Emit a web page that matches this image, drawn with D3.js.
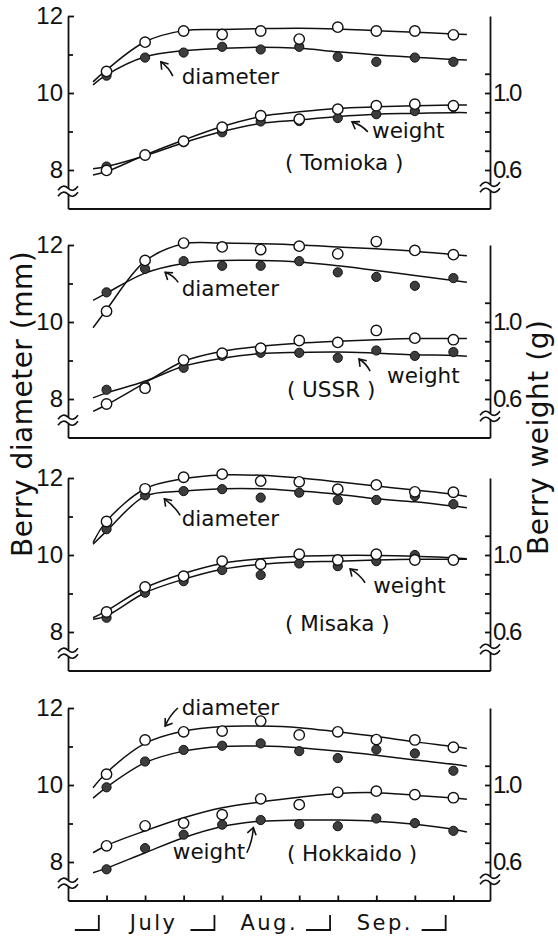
<!DOCTYPE html>
<html>
<head>
<meta charset="utf-8">
<script src="https://cdn.jsdelivr.net/npm/d3@7"></script>
<style>
  body { margin: 0; background: #fff; }
  svg { display: block; }
  text { font-family: "DejaVu Sans", sans-serif; fill: #111; }
  .axis path, .axis line { stroke: #111; stroke-width: 1.8; }
  .axis text { font-family: "Liberation Sans Narrow", "Liberation Sans", sans-serif; font-size: 24px; fill: #111; }
</style>
</head>
<body>
<svg id="chart" width="558" height="949"></svg>
<script>
// sampling days (day 0 = 1 July) and days at which the fitted curves were read
var sampleDays = [2, 12, 22, 32, 42, 52, 62, 72, 82, 92];
var fitDays = [-1.5, 2, 12, 22, 32, 42, 52, 62, 72, 82, 92, 95.5];
var monthNames = ['July', 'Aug.', 'Sep.'];
var monthStarts = [0, 30, 60, 90];
var diamTicks = [8, 10, 12];
var diamMinor = [9, 11];
var weightTicks = [0.6, 0.7, 0.8, 0.9, 1.0, 1.1];
var weightLabels = [0.6, 1.0];
var cultivars = ['Tomioka', 'USSR', 'Misaka', 'Hokkaido'];

// Tomioka
var tomDiaOpen = [10.56, 11.32, 11.61, 11.52, 11.61, 11.40, 11.71, 11.61, 11.61, 11.51];
var tomDiaSolid = [10.45, 10.92, 11.05, 11.20, 11.13, 11.20, 10.94, 10.81, 10.92, 10.81];
var tomWtOpen = [0.598, 0.678, 0.750, 0.822, 0.882, 0.864, 0.916, 0.934, 0.942, 0.934];
var tomWtSolid = [0.618, 0.676, 0.744, 0.796, 0.852, 0.854, 0.870, 0.890, 0.906, 0.926];
var tomDiaOpenFit = [10.29, 10.60, 11.33, 11.62, 11.65, 11.67, 11.68, 11.66, 11.62, 11.58, 11.53, 11.52];
var tomDiaSolidFit = [10.21, 10.47, 10.94, 11.10, 11.16, 11.19, 11.16, 11.07, 10.99, 10.93, 10.87, 10.86];
var tomWtOpenFit = [0.574, 0.592, 0.678, 0.756, 0.826, 0.878, 0.902, 0.920, 0.928, 0.934, 0.938, 0.938];
var tomWtSolidFit = [0.606, 0.618, 0.674, 0.742, 0.800, 0.842, 0.860, 0.878, 0.890, 0.894, 0.898, 0.898];

// USSR
var ussDiaOpen = [10.28, 11.60, 12.05, 11.95, 11.88, 11.97, 11.77, 12.09, 11.86, 11.75];
var ussDiaSolid = [10.77, 11.38, 11.58, 11.46, 11.46, 11.58, 11.29, 11.17, 10.94, 11.14];
var ussWtOpen = [0.574, 0.656, 0.802, 0.838, 0.864, 0.904, 0.894, 0.956, 0.916, 0.908];
var ussWtSolid = [0.648, 0.670, 0.762, 0.824, 0.840, 0.840, 0.814, 0.852, 0.824, 0.844];
var ussDiaOpenFit = [9.85, 10.32, 11.58, 12.03, 12.05, 12.03, 12.00, 11.95, 11.90, 11.84, 11.75, 11.72];
var ussDiaSolidFit = [10.56, 10.75, 11.27, 11.52, 11.60, 11.60, 11.56, 11.46, 11.34, 11.21, 11.08, 11.03];
var ussWtOpenFit = [0.536, 0.570, 0.684, 0.796, 0.848, 0.874, 0.890, 0.900, 0.908, 0.914, 0.914, 0.914];
var ussWtSolidFit = [0.606, 0.632, 0.692, 0.770, 0.812, 0.836, 0.842, 0.844, 0.838, 0.830, 0.826, 0.822];

// Misaka
var misDiaOpen = [10.87, 11.72, 12.02, 12.10, 11.92, 11.90, 11.71, 11.82, 11.64, 11.63];
var misDiaSolid = [10.67, 11.55, 11.66, 11.71, 11.49, 11.62, 11.43, 11.43, 11.53, 11.32];
var misWtOpen = [0.704, 0.834, 0.890, 0.968, 0.952, 1.004, 0.974, 1.004, 0.974, 0.974];
var misWtSolid = [0.674, 0.804, 0.864, 0.922, 0.896, 0.956, 0.942, 0.968, 1.000, 0.974];
var misDiaOpenFit = [10.32, 10.88, 11.72, 11.98, 12.08, 12.07, 12.00, 11.90, 11.79, 11.69, 11.58, 11.52];
var misDiaSolidFit = [10.28, 10.62, 11.53, 11.66, 11.72, 11.72, 11.66, 11.58, 11.46, 11.38, 11.27, 11.23];
var misWtOpenFit = [0.674, 0.710, 0.830, 0.904, 0.956, 0.980, 0.994, 0.998, 0.998, 0.994, 0.986, 0.980];
var misWtSolidFit = [0.666, 0.684, 0.804, 0.874, 0.926, 0.952, 0.964, 0.968, 0.974, 0.978, 0.978, 0.978];

// Hokkaido
var hokDiaOpen = [10.28, 11.17, 11.38, 11.40, 11.66, 11.30, 11.38, 11.18, 11.17, 10.98];
var hokDiaSolid = [9.94, 10.61, 10.91, 11.02, 11.08, 10.88, 10.70, 10.92, 10.82, 10.37];
var hokWtOpen = [0.684, 0.788, 0.802, 0.846, 0.928, 0.898, 0.962, 0.968, 0.950, 0.934];
var hokWtSolid = [0.562, 0.672, 0.742, 0.794, 0.818, 0.796, 0.786, 0.826, 0.802, 0.762];
var hokDiaOpenFit = [9.93, 10.32, 11.08, 11.40, 11.52, 11.53, 11.49, 11.38, 11.26, 11.12, 11.00, 10.95];
var hokDiaSolidFit = [9.66, 9.94, 10.58, 10.88, 11.00, 11.01, 10.97, 10.88, 10.77, 10.65, 10.54, 10.49];
var hokWtOpenFit = [0.648, 0.686, 0.762, 0.830, 0.882, 0.912, 0.936, 0.956, 0.960, 0.946, 0.932, 0.926];
var hokWtSolidFit = [0.544, 0.568, 0.648, 0.726, 0.784, 0.812, 0.818, 0.818, 0.812, 0.796, 0.770, 0.756];

var panelData = [
  { dia: [tomDiaOpen, tomDiaSolid], wt: [tomWtOpen, tomWtSolid],
    diaFit: [tomDiaOpenFit, tomDiaSolidFit], wtFit: [tomWtOpenFit, tomWtSolidFit] },
  { dia: [ussDiaOpen, ussDiaSolid], wt: [ussWtOpen, ussWtSolid],
    diaFit: [ussDiaOpenFit, ussDiaSolidFit], wtFit: [ussWtOpenFit, ussWtSolidFit] },
  { dia: [misDiaOpen, misDiaSolid], wt: [misWtOpen, misWtSolid],
    diaFit: [misDiaOpenFit, misDiaSolidFit], wtFit: [misWtOpenFit, misWtSolidFit] },
  { dia: [hokDiaOpen, hokDiaSolid], wt: [hokWtOpen, hokWtSolid],
    diaFit: [hokDiaOpenFit, hokDiaSolidFit], wtFit: [hokWtOpenFit, hokWtSolidFit] }
];

// labels and arrows, placed in data units (day, mm)
var labelPos = [
  { dia: [21.5, 10.23], wt: [70.9, 8.83], name: [48.3, 8.0] },
  { dia: [21.5, 10.68], wt: [74.8, 8.42], name: [48.8, 8.05] },
  { dia: [21.5, 10.75], wt: [71.2, 9.02], name: [48.3, 8.03] },
  { dia: [21.5, 11.82], wt: [19.2, 8.07], name: [48.8, 8.03] }
];
var arrowPos = [
  [[[19.2, 10.44], [16.1, 10.81]], [[69.8, 8.99], [65.7, 9.25]]],
  [[[20.6, 11.03], [17.2, 11.29]], [[70.4, 8.72], [67.5, 9.04]]],
  [[[21.1, 11.03], [17.0, 11.46]], [[69.1, 9.28], [65.2, 9.64]]],
  [[[20.5, 12.0], [17.2, 11.53]], [[38.4, 8.24], [40.1, 8.89]]]
];

var panelTops = [16, 245, 478, 708];
var panelH = 192.5;

var svg = d3.select('#chart');

var x = d3.scaleLinear()
  .domain([-8, 101.5])
  .range([68, 490]);

var line = d3.line()
  .x(d => x(d[0]))
  .y(d => d[1])
  .curve(d3.curveCatmullRom.alpha(0.5));

function tilde(g, cx, cy) {
  g.append('rect')
    .attr('x', cx - 3).attr('y', cy - 3)
    .attr('width', 6).attr('height', 6)
    .attr('fill', '#fff');
  [-3, 3].forEach(function(off) {
    g.append('path')
      .attr('d', `M${cx - 10},${cy + off + 2} q5,-7 10,-2 t10,-2`)
      .attr('fill', 'none')
      .attr('stroke', '#111')
      .attr('stroke-width', 1.6);
  });
}

function arrow(g, from, to) {
  var dx = to[0] - from[0], dy = to[1] - from[1];
  var len = Math.sqrt(dx * dx + dy * dy);
  var ux = dx / len, uy = dy / len;
  // slight bend of the shaft
  var mx = (from[0] + to[0]) / 2 - uy * 2.5, my = (from[1] + to[1]) / 2 + ux * 2.5;
  g.append('path')
    .attr('d', `M${from[0]},${from[1]} Q${mx},${my} ${to[0]},${to[1]}`)
    .attr('fill', 'none').attr('stroke', '#111').attr('stroke-width', 1.6);
  var a = 0.6, h = 8;
  var hx1 = to[0] - h * (ux * Math.cos(a) - uy * Math.sin(a));
  var hy1 = to[1] - h * (uy * Math.cos(a) + ux * Math.sin(a));
  var hx2 = to[0] - h * (ux * Math.cos(-a) - uy * Math.sin(-a));
  var hy2 = to[1] - h * (uy * Math.cos(-a) + ux * Math.sin(-a));
  g.append('path')
    .attr('d', `M${hx1},${hy1} L${to[0]},${to[1]} L${hx2},${hy2}`)
    .attr('fill', 'none').attr('stroke', '#111').attr('stroke-width', 1.6);
}

panelData.forEach(function(p, i) {
  var top = panelTops[i];
  var yDia = d3.scaleLinear().domain([7, 12]).range([top + panelH, top]);
  var yWt = d3.scaleLinear().domain([0.4, 1.4]).range([top + panelH, top]);
  var g = svg.append('g');

  // axes
  g.append('g')
    .attr('class', 'axis')
    .attr('transform', `translate(${x.range()[0]},0)`)
    .call(d3.axisLeft(yDia).tickValues(diamTicks).tickSize(-6).tickSizeOuter(0).tickPadding(5)
      .tickFormat(d3.format('d')));
  g.append('g')
    .attr('class', 'axis')
    .attr('transform', `translate(${x.range()[0]},0)`)
    .call(d3.axisLeft(yDia).tickValues(diamMinor).tickSize(-5).tickFormat(''))
    .select('.domain').remove();
  g.append('g')
    .attr('class', 'axis')
    .attr('transform', `translate(${x.range()[1]},0)`)
    .call(d3.axisRight(yWt).tickValues(weightTicks).tickSize(-5).tickSizeOuter(0).tickPadding(3)
      .tickFormat(d => weightLabels.indexOf(d) >= 0 ? d3.format('.1f')(d) : ''))
    .selectAll('text').attr('letter-spacing', -2);
  g.append('g')
    .attr('class', 'axis')
    .attr('transform', `translate(0,${yDia(7)})`)
    .call(d3.axisBottom(x).tickValues(i === 3 ? sampleDays : []).tickSize(-5).tickSizeOuter(0).tickFormat(''));

  tilde(g, x.range()[0], yDia(7.45));
  tilde(g, x.range()[1], yDia(7.55));

  // fitted curves
  var fits = [p.diaFit[0].map(v => yDia(v)), p.diaFit[1].map(v => yDia(v)),
              p.wtFit[0].map(v => yWt(v)), p.wtFit[1].map(v => yWt(v))];
  fits.forEach(function(ys) {
    g.append('path')
      .attr('d', line(fitDays.map((d, k) => [d, ys[k]])))
      .attr('fill', 'none')
      .attr('stroke', '#111')
      .attr('stroke-width', 1.5);
  });

  // points: solid first, open on top
  var series = [
    { ys: p.dia[1].map(v => yDia(v)), open: false },
    { ys: p.wt[1].map(v => yWt(v)), open: false },
    { ys: p.dia[0].map(v => yDia(v)), open: true },
    { ys: p.wt[0].map(v => yWt(v)), open: true }
  ];
  series.forEach(function(s) {
    g.selectAll(null)
      .data(sampleDays.map((d, k) => [d, s.ys[k]]))
      .enter().append('circle')
      .attr('cx', d => x(d[0]))
      .attr('cy', d => d[1])
      .attr('r', s.open ? 5.2 : 4.6)
      .attr('fill', s.open ? '#fff' : '#3d3d3d')
      .attr('stroke', '#111')
      .attr('stroke-width', s.open ? 1.4 : 1);
  });

  // labels
  var lp = labelPos[i];
  g.append('text').attr('x', x(lp.dia[0])).attr('y', yDia(lp.dia[1]))
    .attr('font-size', 21.5).text('diameter');
  g.append('text').attr('x', x(lp.wt[0])).attr('y', yDia(lp.wt[1]))
    .attr('font-size', 21.5).text('weight');
  g.append('text').attr('x', x(lp.name[0])).attr('y', yDia(lp.name[1]))
    .attr('font-size', 21.5).attr('xml:space', 'preserve').text('( ' + cultivars[i] + ' )');

  arrowPos[i].forEach(function(a) {
    arrow(g, [x(a[0][0]), yDia(a[0][1])], [x(a[1][0]), yDia(a[1][1])]);
  });
});

// month brackets under the last panel
var baseY = 930;
monthStarts.forEach(function(d) {
  svg.append('path')
    .attr('d', `M${x(d) - 24},${baseY} H${x(d)} V${baseY - 15}`)
    .attr('fill', 'none').attr('stroke', '#111').attr('stroke-width', 1.8);
});
monthNames.forEach(function(m, k) {
  var mid = (monthStarts[k] + monthStarts[k + 1]) / 2;
  svg.append('text')
    .attr('x', x(mid) - 3)
    .attr('y', baseY)
    .attr('text-anchor', 'middle')
    .attr('font-size', 21)
    .attr('letter-spacing', 2.5)
    .text(m);
});

// axis titles
svg.append('text')
  .attr('transform', 'translate(32,557) rotate(-90)')
  .attr('font-size', 28)
  .attr('letter-spacing', 0.5)
  .text('Berry diameter (mm)');
svg.append('text')
  .attr('transform', 'translate(548,555) rotate(-90)')
  .attr('font-size', 28)
  .attr('letter-spacing', 0.5)
  .text('Berry weight (g)');
</script>
</body>
</html>
